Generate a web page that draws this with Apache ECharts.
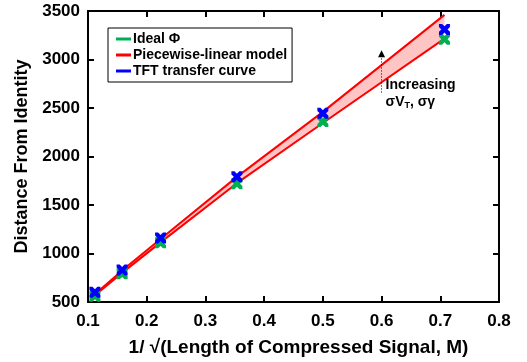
<!DOCTYPE html>
<html><head><meta charset="utf-8">
<script src="https://cdn.jsdelivr.net/npm/echarts@6/dist/echarts.min.js"></script>
<style>html,body{margin:0;padding:0;background:#fff}#c{width:527px;height:362px}</style>
</head><body><div id="c"></div>
<script>
const xVals = [0.1118, 0.1581, 0.2236, 0.3536, 0.5, 0.7071];
const idealPhi = [560, 790, 1110, 1720, 2360, 3210];
const tftCurve = [600, 830, 1160, 1790, 2445, 3310];
const modelLow = [570, 800, 1115, 1725, 2345, 3215];
const modelHigh = [580, 825, 1150, 1790, 2460, 3460];
const arrowX = 0.6, arrowFrom = 2660, arrowTo = 3060;
const annotY = 2650;
const xTicks = {min: 0.1, max: 0.8, interval: 0.1};
const yTicks = {min: 500, max: 3500, interval: 500};

const pair = arr => arr.map((v, i) => [xVals[i], v]);
const xMark = 'path://M0,0 L2.8,0 L5,2.2 L7.2,0 L10,0 L10,2.8 L7.8,5 L10,7.2 L10,10 L7.2,10 L5,7.8 L2.8,10 L0,10 L0,7.2 L2.2,5 L0,2.8 Z';
const FONT = 'Liberation Sans';
const axisCommon = {
  axisLine: {show: true, lineStyle: {color: '#000', width: 2}},
  axisTick: {show: true, inside: true, length: 6, lineStyle: {color: '#000', width: 2}},
  splitLine: {show: false}
};
const chart = echarts.init(document.getElementById('c'));
chart.setOption({
  animation: false,
  textStyle: {fontFamily: FONT},
  grid: {left: 88, right: 28, top: 11, bottom: 59},
  legend: {
    data: ['Ideal Φ', 'Piecewise-linear model', 'TFT transfer curve'],
    orient: 'vertical', left: 108, top: 28,
    icon: 'rect', itemWidth: 15, itemHeight: 3, itemGap: 2,
    borderColor: '#000', borderWidth: 1, padding: [4, 5, 4, 8],
    textStyle: {fontFamily: FONT, fontWeight: 'bold', fontSize: 14, color: '#000', padding: [0, 0, 0, -3]}
  },
  xAxis: [
    Object.assign({type: 'value', position: 'bottom', min: xTicks.min, max: xTicks.max, interval: xTicks.interval,
      name: '1/ √(Length of Compressed Signal, M)', nameLocation: 'middle', nameGap: 36,
      nameTextStyle: {fontFamily: FONT, fontWeight: 'bold', fontSize: 19, color: '#000', padding: [0, 0, 0, 10]},
      axisLabel: {fontFamily: FONT, fontWeight: 'bold', fontSize: 17, color: '#000', margin: 11, formatter: v => v.toFixed(1)}
    }, axisCommon),
    Object.assign({type: 'value', position: 'top', min: xTicks.min, max: xTicks.max, interval: xTicks.interval,
      axisLabel: {show: false}}, axisCommon)
  ],
  yAxis: [
    Object.assign({type: 'value', position: 'left', min: yTicks.min, max: yTicks.max, interval: yTicks.interval,
      name: 'Distance From Identity', nameLocation: 'middle', nameGap: 57,
      nameTextStyle: {fontFamily: FONT, fontWeight: 'bold', fontSize: 18, color: '#000'},
      axisLabel: {fontFamily: FONT, fontWeight: 'bold', fontSize: 17, color: '#000', margin: 8, formatter: v => String(v)}
    }, axisCommon),
    Object.assign({type: 'value', position: 'right', min: yTicks.min, max: yTicks.max, interval: yTicks.interval,
      axisLabel: {show: false}}, axisCommon)
  ],
  series: [
    {name: 'band', type: 'custom', data: [[xVals[0], modelLow[0]]], z: 1, silent: true,
      renderItem: (params, api) => {
        const pts = modelHigh.map((v, i) => api.coord([xVals[i], v]))
          .concat(modelLow.map((v, i) => api.coord([xVals[i], v])).reverse());
        return {type: 'polygon', shape: {points: pts}, style: {fill: '#ffc4c4', stroke: 'none'}};
      }},
    {name: 'Piecewise-linear model', type: 'line', data: pair(modelLow),
      symbol: 'none', lineStyle: {color: '#ff0000', width: 2}, itemStyle: {color: '#ff0000'}, z: 2},
    {name: 'Piecewise-linear model', type: 'line', data: pair(modelHigh),
      symbol: 'none', lineStyle: {color: '#ff0000', width: 2}, itemStyle: {color: '#ff0000'}, z: 2},
    {name: 'Ideal Φ', type: 'scatter', data: pair(idealPhi), symbol: xMark, symbolSize: 11,
      itemStyle: {color: '#00b050', opacity: 1}, z: 3},
    {name: 'TFT transfer curve', type: 'scatter', data: pair(tftCurve), symbol: xMark, symbolSize: 11,
      itemStyle: {color: '#0000ff', opacity: 1}, z: 4},
    {name: 'annot', type: 'scatter', data: [[arrowX, annotY]], symbolSize: 0, itemStyle: {opacity: 1},
      label: {show: true, position: 'right', distance: 4, align: 'left',
        formatter: 'Increasing\nσV{sub|T}, σγ',
        fontFamily: FONT, fontWeight: 'bold', fontSize: 14, color: '#000', lineHeight: 17, opacity: 1,
        rich: {sub: {fontFamily: FONT, fontWeight: 'bold', fontSize: 9, color: '#000', verticalAlign: 'bottom', lineHeight: 17, padding: [6, 0, 0, 0]}}},
      markLine: {silent: true, symbol: ['none', 'triangle'], symbolSize: 7,
        lineStyle: {color: '#000', type: [1, 2], width: 1, opacity: 1}, label: {show: false},
        data: [[{coord: [arrowX, arrowFrom]}, {coord: [arrowX, arrowTo]}]]}, z: 5}
  ]
});
</script></body></html>
